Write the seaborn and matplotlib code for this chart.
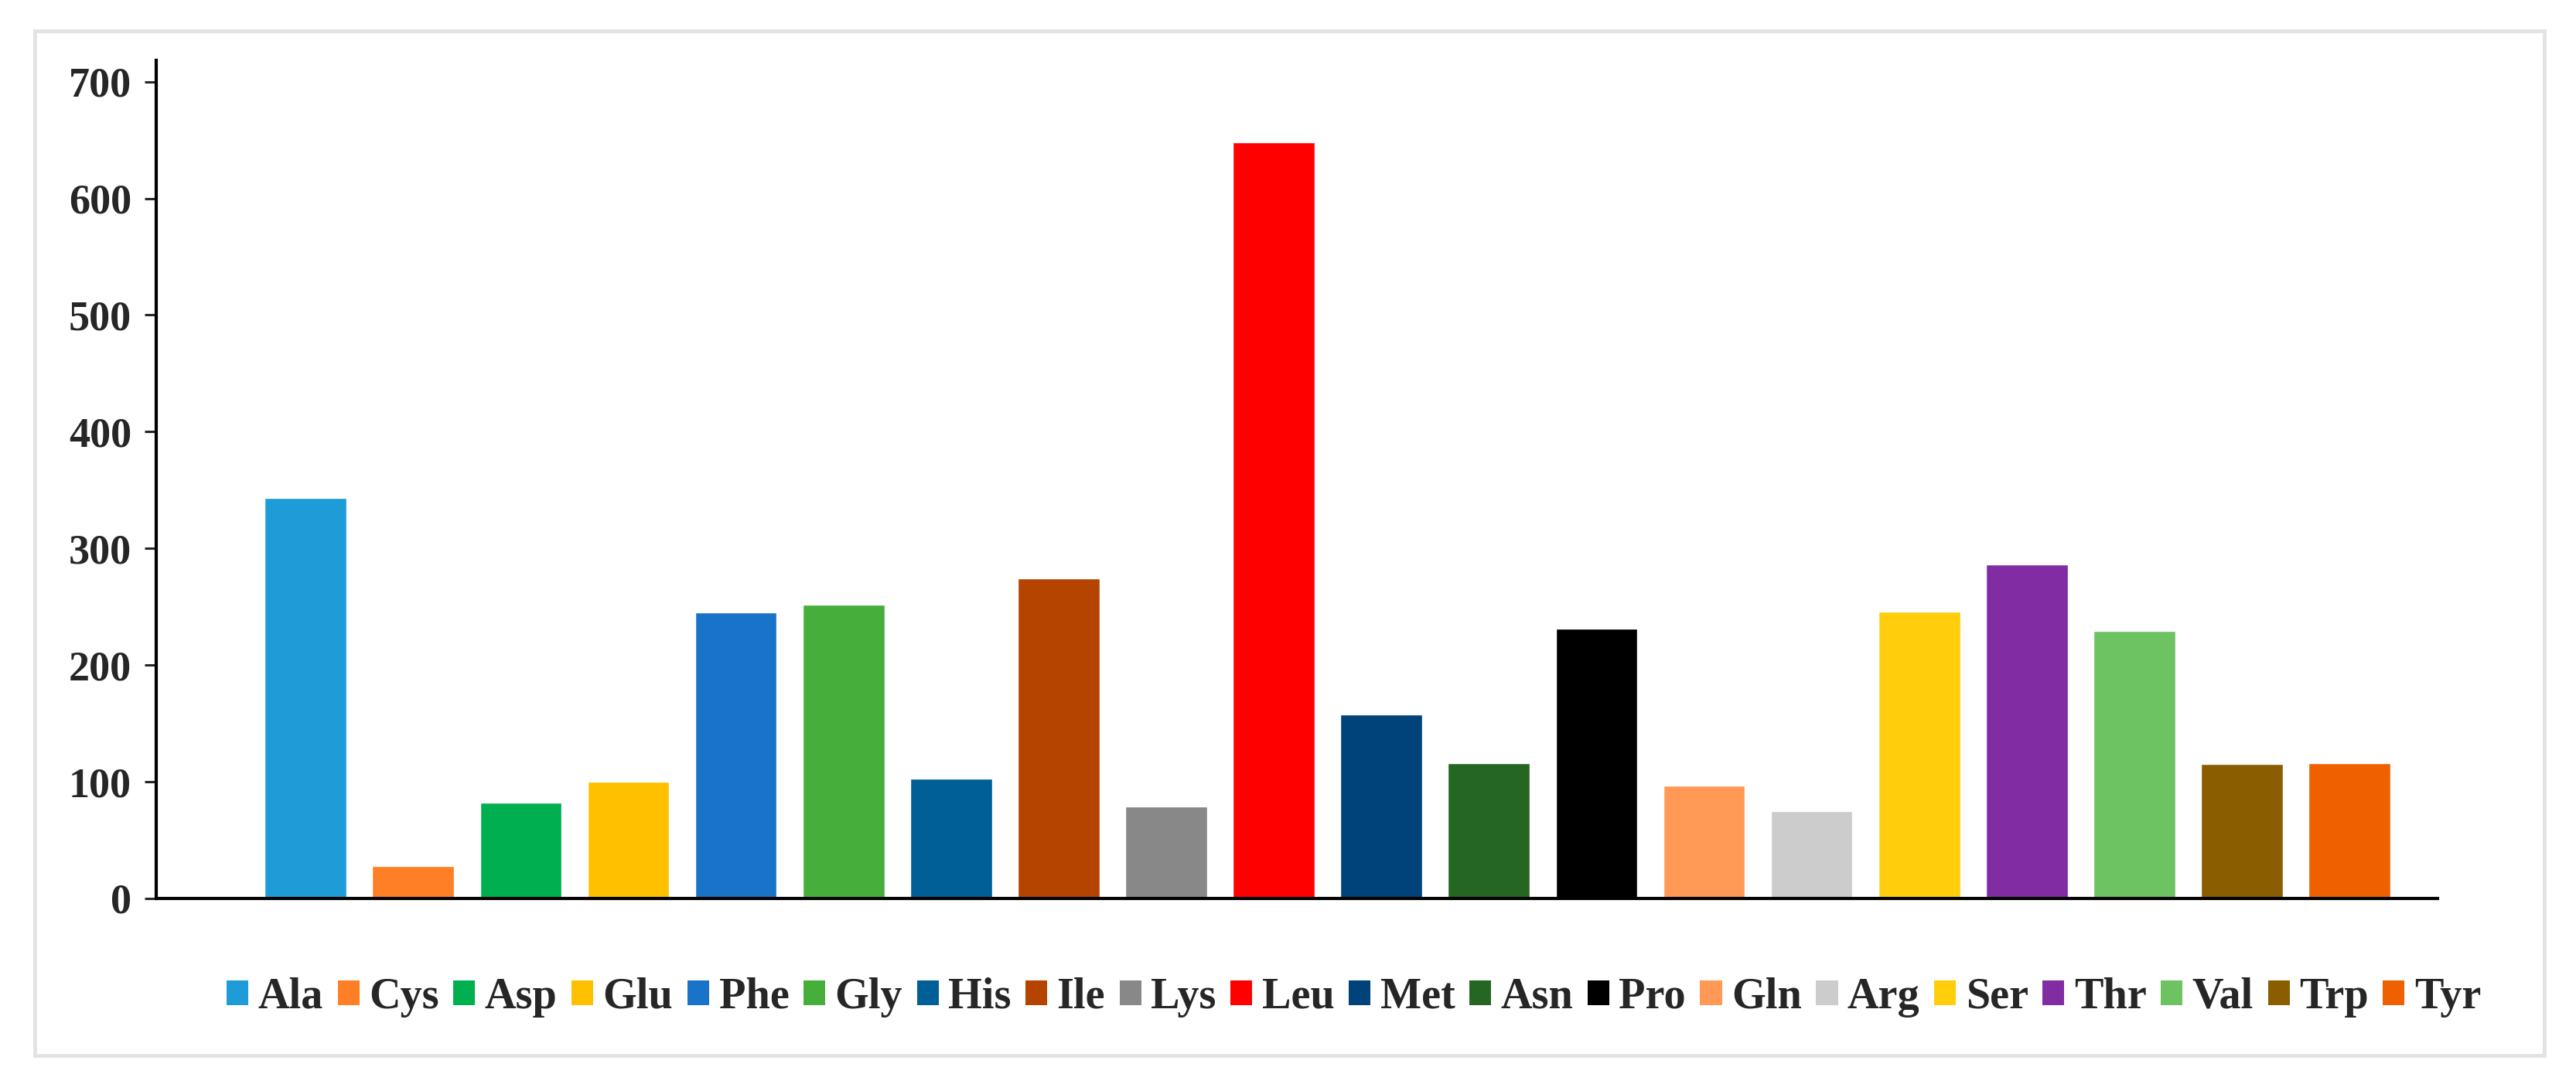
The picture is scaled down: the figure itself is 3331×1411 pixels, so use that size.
import pandas as pd
import matplotlib.pyplot as plt
import seaborn as sns
from matplotlib.patches import Patch, Rectangle

# === datos ===
aminoacidos = ["Ala", "Cys", "Asp", "Glu", "Phe", "Gly", "His", "Ile", "Lys", "Leu",
               "Met", "Asn", "Pro", "Gln", "Arg", "Ser", "Thr", "Val", "Trp", "Tyr"]
valores = [343, 28, 82, 100, 245, 252, 103, 274, 79, 648,
           158, 116, 231, 97, 75, 246, 286, 229, 115, 116]
colores = ["#1E9CD7", "#FF7F27", "#00B050", "#FFC000", "#1873C9", "#46AF3C", "#005F96",
           "#B44400", "#888888", "#FF0000", "#00427A", "#256623", "#000000", "#FF9955",
           "#CCCCCC", "#FFCD0C", "#812CA2", "#6DC262", "#8A5E00", "#EF6100"]
y_ticks = [0, 100, 200, 300, 400, 500, 600, 700]

df = pd.DataFrame({"aa": aminoacidos, "valor": valores})

sns.set_style("white")
plt.rcParams['font.family'] = ['Liberation Serif', 'DejaVu Serif']
plt.rcParams['font.weight'] = 'bold'

fig = plt.figure(figsize=(33.31, 14.11), dpi=100)
ax = fig.add_axes([0.0606, 0.1765, 0.8857, 0.7679])

sns.barplot(data=df, x="aa", y="valor", hue="aa", palette=colores,
            dodge=False, legend=False, width=0.76, saturation=1, ax=ax)

ax.set_xlim(-1.39, 19.82)
ax.set_ylim(0, 718)
ax.set_yticks(y_ticks)
ax.set_xticks([])
ax.set_xlabel("")
ax.set_ylabel("")
ax.tick_params(axis='y', labelsize=39, length=11, width=2.2, pad=12, direction='out', left=True)
for lab in ax.get_yticklabels():
    lab.set_fontweight('bold')

sns.despine(ax=ax)
for s in ["left", "bottom"]:
    ax.spines[s].set_linewidth(3)
    ax.spines[s].set_color("black")

# leyenda en una fila debajo del gráfico
handles = [Patch(facecolor=c, edgecolor='none') for c in colores]
ax.legend(handles, aminoacidos, loc='center', bbox_to_anchor=(0.525, -0.118),
          ncol=20, frameon=False, handlelength=0.5, handleheight=0.5,
          handletextpad=0.22, columnspacing=0.33,
          prop={'family': 'Liberation Serif', 'weight': 'bold', 'size': 40.5})

# marco gris alrededor de la figura
fig.patches.append(Rectangle((0.0135, 0.0326), 0.9742, 0.9391, transform=fig.transFigure,
                             fill=False, edgecolor="#E3E3E3", linewidth=3.5))

fig.savefig("out.png", dpi=100)
